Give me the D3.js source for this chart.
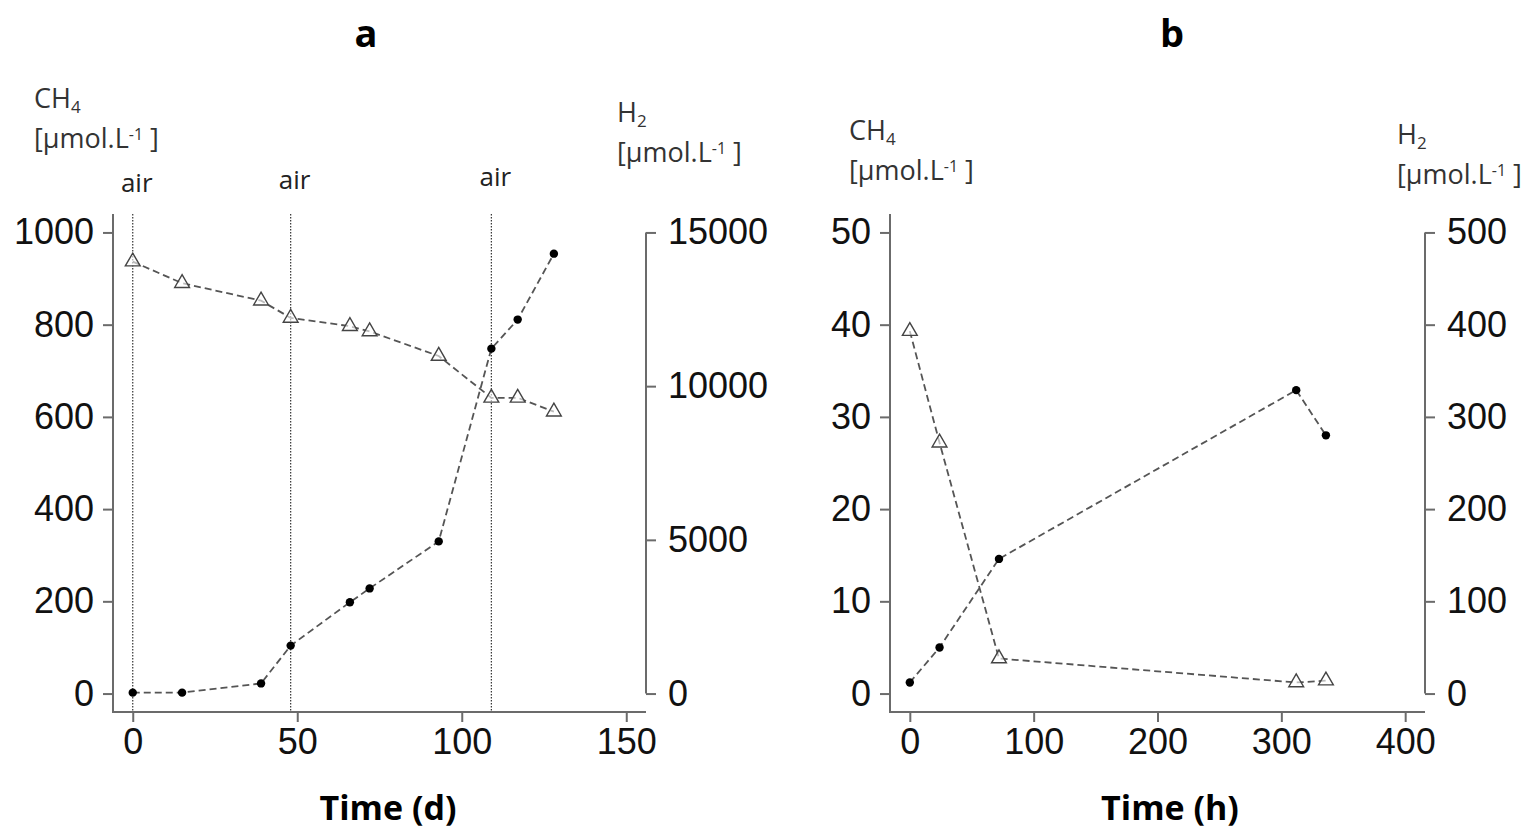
<!DOCTYPE html>
<html>
<head>
<meta charset="utf-8">
<script src="https://cdn.jsdelivr.net/npm/d3@7"></script>
<style>
  body { margin: 0; background: #fff; }
  svg { display: block; }
</style>
</head>
<body>
<svg id="drawing_region"></svg>
<script>
// panel a: time in days
const timeA = [0, 15, 39, 48, 66, 72, 93, 109, 117, 128];
const ch4A  = [2, 2, 22, 104, 198, 228, 330, 748, 811, 954];
const h2A   = [14050, 13350, 12780, 12220, 11950, 11780, 10980, 9620, 9620, 9170];
const airA  = [0, 48, 109];

// panel b: time in hours
const timeB = [0, 24, 72, 312, 336];
const ch4B  = [1.2, 5.0, 14.6, 32.9, 28.0];
const h2B   = [393, 272, 38, 12, 14];

// tick labels
const xTicksA  = [0, 50, 100, 150];
const yTicksA  = [0, 200, 400, 600, 800, 1000];
const y2TicksA = [0, 5000, 10000, 15000];
const xTicksB  = [0, 100, 200, 300, 400];
const yTicksB  = [0, 10, 20, 30, 40, 50];
const y2TicksB = [0, 100, 200, 300, 400, 500];

const svg = d3.select('#drawing_region')
    .attr('width', 1539)
    .attr('height', 829);

const tickFont = '"Liberation Sans", Arial, sans-serif';
const labelFont = '"Open Sans", "Noto Sans", sans-serif';
const axisColor = '#6b6b6b';

function drawPanel(p) {
    // R style: data range padded by 4%
    const pad = (lo, hi) => [lo - (hi - lo) * 0.04, hi + (hi - lo) * 0.04];

    const x = d3.scaleLinear().domain(pad(p.xTicks[0], p.xTicks[p.xTicks.length - 1]))
        .range([p.left, p.right]);
    const y = d3.scaleLinear().domain(pad(p.yTicks[0], p.yTicks[p.yTicks.length - 1]))
        .range([p.bottom, p.top]);
    const y2 = d3.scaleLinear().domain(pad(p.y2Ticks[0], p.y2Ticks[p.y2Ticks.length - 1]))
        .range([p.bottom, p.top]);

    const g = svg.append('g');

    // L-shaped box
    g.append('path')
        .attr('d', `M${p.left},${p.top}V${p.bottom}H${p.right}`)
        .attr('fill', 'none')
        .attr('stroke', axisColor)
        .attr('stroke-width', 2);

    const fmt = d3.format('d');

    // left axis
    const yaxis = d3.axisLeft(y).tickValues(p.yTicks).tickFormat(fmt).tickSize(10).tickPadding(9);
    const yg = g.append('g').attr('transform', `translate(${p.left},0)`).call(yaxis);

    // bottom axis
    const xaxis = d3.axisBottom(x).tickValues(p.xTicks).tickFormat(fmt).tickSize(10).tickPadding(6);
    const xg = g.append('g').attr('transform', `translate(0,${p.bottom})`).call(xaxis);

    // right axis, line only between first and last tick
    const y2axis = d3.axisRight(y2).tickValues(p.y2Ticks).tickFormat(fmt).tickSize(10).tickPadding(12);
    const y2g = g.append('g').attr('transform', `translate(${p.right},0)`).call(y2axis);
    y2g.append('line')
        .attr('y1', y2(p.y2Ticks[0]))
        .attr('y2', y2(p.y2Ticks[p.y2Ticks.length - 1]))
        .attr('stroke', axisColor)
        .attr('stroke-width', 2);

    [yg, xg, y2g].forEach(a => {
        a.select('.domain').remove();
        a.selectAll('.tick line').attr('stroke', axisColor).attr('stroke-width', 2);
        a.selectAll('.tick text')
            .attr('fill', '#111')
            .style('font-family', tickFont)
            .style('font-size', '36px');
    });

    // vertical dotted "air" lines
    p.air.forEach((t, i) => {
        g.append('line')
            .attr('x1', x(t)).attr('x2', x(t))
            .attr('y1', p.top).attr('y2', p.bottom)
            .attr('stroke', '#333')
            .attr('stroke-width', 1.2)
            .attr('stroke-dasharray', '1.5,1.5');
        g.append('text')
            .attr('x', x(t) + 4)
            .attr('y', p.top - 22 - i * 3)
            .attr('text-anchor', 'middle')
            .style('font-family', labelFont)
            .style('font-size', '26px')
            .attr('fill', '#222')
            .text('air');
    });

    const line = d3.line();

    // H2 series: open triangles
    const h2pts = p.time.map((t, i) => [x(t), y2(p.h2[i])]);
    g.append('path')
        .attr('d', line(h2pts))
        .attr('fill', 'none')
        .attr('stroke', '#555')
        .attr('stroke-width', 1.8)
        .attr('stroke-dasharray', '7,4');
    const tri = d3.symbol().type(d3.symbolTriangle).size(95);
    g.selectAll('.tri').data(h2pts).enter()
        .append('path')
        .attr('transform', d => `translate(${d[0]},${d[1]})`)
        .attr('d', tri)
        .attr('fill', '#fff')
        .attr('fill-opacity', 0.6)
        .attr('stroke', '#444')
        .attr('stroke-width', 1.4);

    // CH4 series: filled dots
    const ch4pts = p.time.map((t, i) => [x(t), y(p.ch4[i])]);
    g.append('path')
        .attr('d', line(ch4pts))
        .attr('fill', 'none')
        .attr('stroke', '#555')
        .attr('stroke-width', 1.8)
        .attr('stroke-dasharray', '7,4');
    g.selectAll('.dot').data(ch4pts).enter()
        .append('circle')
        .attr('cx', d => d[0])
        .attr('cy', d => d[1])
        .attr('r', 4.2)
        .attr('fill', '#000');

    // panel letter
    svg.append('text')
        .attr('x', p.letterX).attr('y', 47)
        .attr('text-anchor', 'middle')
        .style('font-family', labelFont)
        .style('font-size', '38px')
        .style('font-weight', 'bold')
        .text(p.letter);

    // x title
    svg.append('text')
        .attr('x', p.titleX).attr('y', 820)
        .attr('text-anchor', 'middle')
        .style('font-family', labelFont)
        .style('font-size', '34px')
        .style('font-weight', 'bold')
        .text(p.xTitle);

    // unit labels
    unitLabel(p.ch4LabelX, p.ch4LabelY, 'CH', '4');
    unitLabel(p.h2LabelX, p.h2LabelY, 'H', '2');
}

function unitLabel(lx, ly, base, sub) {
    const t = svg.append('text')
        .attr('x', lx).attr('y', ly)
        .style('font-family', labelFont)
        .style('font-size', '27px')
        .attr('fill', '#333');
    t.append('tspan').text(base);
    t.append('tspan').attr('dy', 5).style('font-size', '17px').text(sub);

    const u = svg.append('text')
        .attr('x', lx).attr('y', ly + 40)
        .style('font-family', labelFont)
        .style('font-size', '27px')
        .attr('fill', '#333');
    u.append('tspan').text('[µmol.L');
    u.append('tspan').attr('dy', -8).style('font-size', '16px').text('-1');
    u.append('tspan').attr('dy', 8).text(' ]');
}

drawPanel({
    letter: 'a', letterX: 366, xTitle: 'Time (d)', titleX: 388,
    left: 113, right: 646, top: 214, bottom: 712,
    time: timeA, ch4: ch4A, h2: h2A, air: airA,
    xTicks: xTicksA, yTicks: yTicksA, y2Ticks: y2TicksA,
    ch4LabelX: 34, ch4LabelY: 108, h2LabelX: 617, h2LabelY: 122
});

drawPanel({
    letter: 'b', letterX: 1172, xTitle: 'Time (h)', titleX: 1170,
    left: 890, right: 1425, top: 214, bottom: 712,
    time: timeB, ch4: ch4B, h2: h2B, air: [],
    xTicks: xTicksB, yTicks: yTicksB, y2Ticks: y2TicksB,
    ch4LabelX: 849, ch4LabelY: 140, h2LabelX: 1397, h2LabelY: 144
});
</script>
</body>
</html>
